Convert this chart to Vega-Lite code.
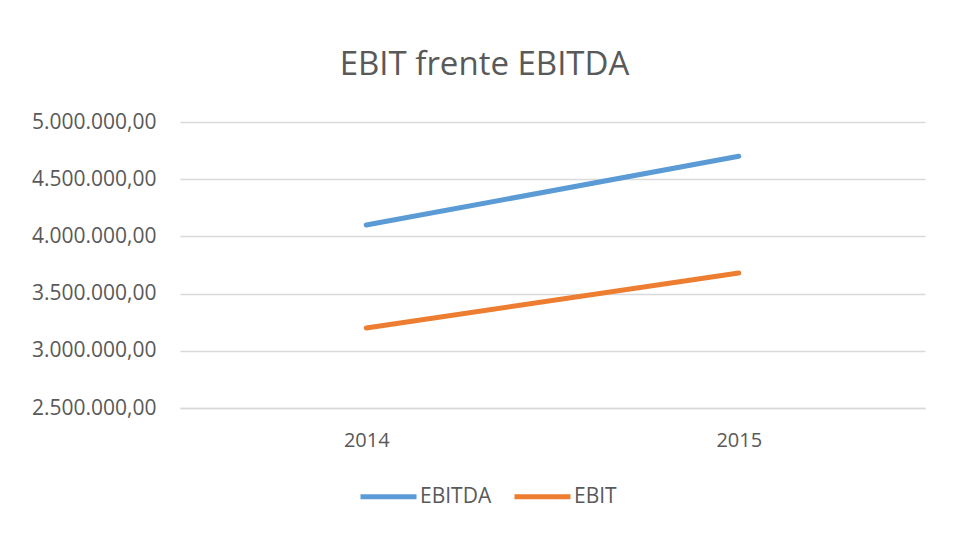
{
  "$schema": "https://vega.github.io/schema/vega-lite/v6.json",
  "width": 745,
  "height": 286,
  "autosize": {"type": "none"},
  "padding": {"left": 180, "top": 122, "right": 31, "bottom": 128},
  "background": "white",
  "title": {
    "text": "EBIT frente EBITDA",
    "anchor": "middle",
    "dx": -68,
    "offset": 29,
    "fontSize": 33,
    "font": "Open Sans",
    "fontWeight": "normal",
    "color": "#595959"
  },
  "config": {
    "locale": {"number": {"decimal": ",", "thousands": ".", "grouping": [3], "currency": ["", " €"]}},
    "view": {"stroke": null},
    "font": "Open Sans"
  },
  "data": {
    "values": [
      {"year": "2014", "serie": "EBITDA", "value": 4100000},
      {"year": "2015", "serie": "EBITDA", "value": 4700000},
      {"year": "2014", "serie": "EBIT", "value": 3200000},
      {"year": "2015", "serie": "EBIT", "value": 3680000}
    ]
  },
  "mark": {"type": "line", "strokeWidth": 5, "strokeCap": "round"},
  "encoding": {
    "x": {
      "field": "year",
      "type": "ordinal",
      "scale": {"type": "point", "padding": 0.5},
      "axis": {
        "title": null,
        "labelAngle": 0,
        "ticks": false,
        "domain": true,
        "domainColor": "#d9d9d9",
        "domainWidth": 1.5,
        "grid": false,
        "labelFontSize": 20,
        "labelColor": "#595959",
        "labelPadding": 22,
        "labelFont": "Open Sans"
      }
    },
    "y": {
      "field": "value",
      "type": "quantitative",
      "scale": {"domain": [2500000, 5000000], "nice": false, "zero": false},
      "axis": {
        "title": null,
        "values": [2500000, 3000000, 3500000, 4000000, 4500000, 5000000],
        "format": ",.2f",
        "ticks": false,
        "domain": false,
        "grid": true,
        "gridColor": "#d9d9d9",
        "gridWidth": 1.5,
        "labelFontSize": 21,
        "labelColor": "#595959",
        "labelPadding": 24,
        "labelFont": "Open Sans"
      }
    },
    "color": {
      "field": "serie",
      "type": "nominal",
      "scale": {"domain": ["EBITDA", "EBIT"], "range": ["#5b9bd5", "#ed7d31"]},
      "legend": {
        "title": null,
        "orient": "none",
        "direction": "horizontal",
        "legendX": 178,
        "legendY": 344,
        "symbolType": "stroke",
        "symbolSize": 3136,
        "symbolStrokeWidth": 5,
        "labelFontSize": 21,
        "labelColor": "#595959",
        "labelFont": "Open Sans",
        "labelOffset": 1,
        "columnPadding": 12
      }
    }
  }
}
